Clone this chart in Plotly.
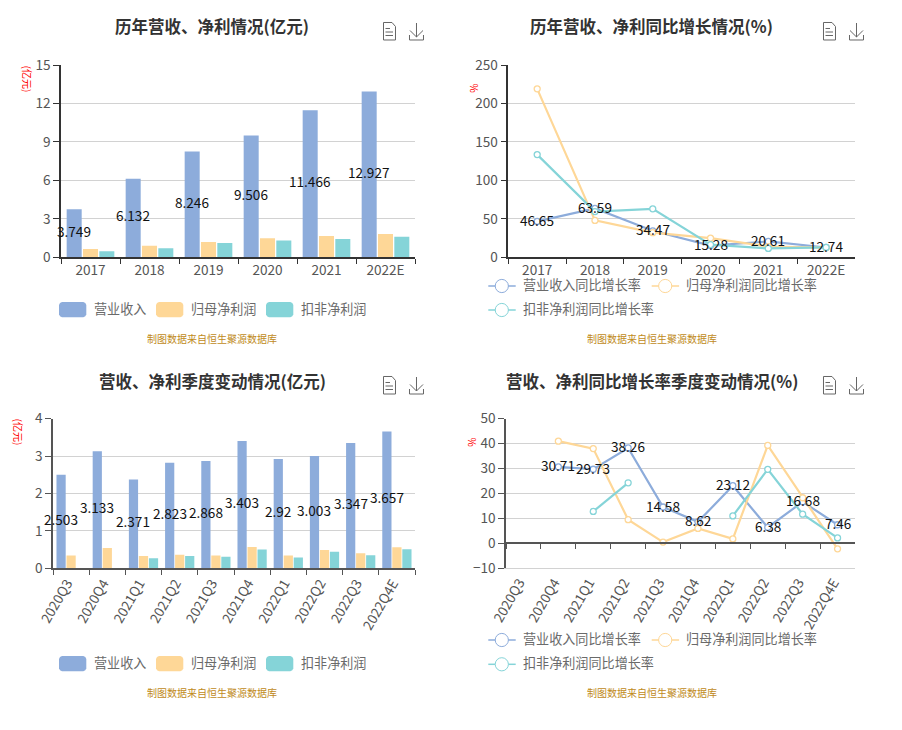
import plotly.graph_objects as go

years = ["2017", "2018", "2019", "2020", "2021", "2022E"]
quarters = ["2020Q3", "2020Q4", "2021Q1", "2021Q2", "2021Q3", "2021Q4", "2022Q1", "2022Q2", "2022Q3", "2022Q4E"]

annual_revenue = [3.749, 6.132, 8.246, 9.506, 11.466, 12.927]
annual_parent = [0.65, 0.91, 1.19, 1.48, 1.66, 1.82]
annual_deducted = [0.47, 0.70, 1.12, 1.32, 1.43, 1.61]

annual_revenue_yoy = [46.65, 63.59, 34.47, 15.28, 20.61, 12.74]
annual_parent_yoy = [219, 48, 32, 25, 14, 12.5]
annual_deducted_yoy = [133.5, 59.5, 63, 16.5, 11.5, 12.8]

quarter_revenue = [2.503, 3.133, 2.371, 2.823, 2.868, 3.403, 2.92, 3.003, 3.347, 3.657]
quarter_parent = [0.34, 0.54, 0.33, 0.36, 0.34, 0.57, 0.34, 0.49, 0.40, 0.56]
quarter_deducted = [None, None, 0.27, 0.33, 0.31, 0.50, 0.29, 0.44, 0.35, 0.51]

quarter_revenue_yoy = [None, 30.71, 29.73, 38.26, 14.58, 8.62, 23.12, 6.38, 16.68, 7.46]
quarter_parent_yoy = [None, 41, 38, 9.5, 0.5, 6, 1.8, 39.3, 18.3, -2.2]
quarter_deducted_yoy = [None, None, 12.8, 24.3, None, None, 11, 29.7, 11.7, 2.2]

bar_names = ["营业收入", "归母净利润", "扣非净利润"]
line_names = ["营业收入同比增长率", "归母净利润同比增长率", "扣非净利润同比增长率"]
titles = ["历年营收、净利情况(亿元)", "历年营收、净利同比增长情况(%)", "营收、净利季度变动情况(亿元)", "营收、净利同比增长率季度变动情况(%)"]
source_note = "制图数据来自恒生聚源数据库"

W, H = 902, 730
BLUE, ORANGE, TEAL = "#8dacdb", "#fed797", "#85d4d8"
COLORS = [BLUE, ORANGE, TEAL]
FONT = "Noto Sans CJK SC"
TICK = "#555555"
GRID = "#d2d2d2"
BAR_GAP, GROUP_GAP = 0.17, 0.08

fig = go.Figure()
shapes = []
annots = []

def px(x): return x / W
def py(y): return 1 - y / H

def text(x, y, s, size=13.1, color="#6a6a6a", anchor="center", angle=0, bold=False):
    annots.append(dict(text=f"<b>{s}</b>" if bold else s, x=px(x), y=py(y), xref="paper", yref="paper",
                       xanchor=anchor, yanchor="middle", showarrow=False, textangle=angle,
                       font=dict(family=FONT, size=size, color=color)))

def value_label(i, pos, val, y, xshift, yshift):
    annots.append(dict(text=str(val), x=pos, y=y, xref=f"x{i}", yref=f"y{i}", xanchor="center", yanchor="middle",
                       xshift=xshift, yshift=yshift, showarrow=False,
                       font=dict(family=FONT, size=13.6, color="#111111")))

def shape_path(d, color, width=1, fill=None):
    shapes.append(dict(type="path", path=d, xref="paper", yref="paper",
                       line=dict(color=color, width=width),
                       fillcolor=fill if fill else "rgba(0,0,0,0)"))

def P(*pts, close=False):
    d = "M " + " L ".join(f"{px(a):.5f},{py(b):.5f}" for a, b in pts)
    return d + (" Z" if close else "")

def rrect(x0, y0, x1, y1, color):
    r = 3
    pts = [(x0 + r, y0), (x1 - r, y0), (x1 - 1, y0 + 1), (x1, y0 + r), (x1, y1 - r), (x1 - 1, y1 - 1),
           (x1 - r, y1), (x0 + r, y1), (x0 + 1, y1 - 1), (x0, y1 - r), (x0, y0 + r), (x0 + 1, y0 + 1)]
    shape_path(P(*pts, close=True), color, 0, color)

def icons(dx, dy):
    c = "#666666"
    X = lambda a: a + dx
    Y = lambda b: b + dy
    shape_path(P((X(383.5), Y(22.5)), (X(392), Y(22.5)), (X(395.5), Y(26.5)), (X(395.5), Y(40)), (X(383.5), Y(40)), close=True), c)
    for yy, x1 in [(28.5, 390), (32, 393), (35.5, 393)]:
        shape_path(P((X(385.5), Y(yy)), (X(x1), Y(yy))), c)
    shape_path(P((X(416.5), Y(23)), (X(416.5), Y(37))), c)
    shape_path(P((X(410), Y(30.5)), (X(416.5), Y(37)), (X(423), Y(30.5))), c)
    shape_path(P((X(409.5), Y(35)), (X(409.5), Y(40)), (X(423.5), Y(40)), (X(423.5), Y(35))), c)

def axes(i, cats, box, yr, dtick, angle, xline, shift=0):
    x0, y0, x1, y1 = box
    fig.layout[f"xaxis{i}"] = dict(
        domain=[px(x0), px(x1)], anchor=f"y{i}", type="category", categoryorder="array", categoryarray=cats,
        range=[-0.5, len(cats) - 0.5], tickson="boundaries", ticks="outside", ticklen=5, tickwidth=1, tickcolor=xline,
        showline=True, linecolor=xline, linewidth=1.5, showgrid=False, zeroline=False, tickangle=angle,
        automargin=False, ticklabelshift=shift, tickfont=dict(family=FONT, size=13.6, color=TICK), fixedrange=True)
    fig.layout[f"yaxis{i}"] = dict(
        domain=[py(y1), py(y0)], anchor=f"x{i}", range=yr, dtick=dtick, tick0=0, ticks="outside", ticklen=6,
        tickwidth=1, tickcolor=xline, showline=True, linecolor=xline, linewidth=1.5, showgrid=True, automargin=False,
        gridcolor=GRID, gridwidth=1, zeroline=False, tickfont=dict(family=FONT, size=13.6, color=TICK), fixedrange=True)

def bars(i, cats, series, plot_width):
    for k, vals in enumerate(series):
        fig.add_trace(go.Bar(x=cats, y=vals, name=bar_names[k], marker=dict(color=COLORS[k], line=dict(width=0)),
                             xaxis=f"x{i}", yaxis=f"y{i}", showlegend=False, cliponaxis=False, hoverinfo="x+y"))
    slot = plot_width / len(cats) * (1 - BAR_GAP) / 3
    for pos, v in enumerate(series[0]):
        value_label(i, pos, v, v / 2, -slot, 2.5)

def lines(i, cats, series):
    for k, vals in enumerate(series):
        fig.add_trace(go.Scatter(x=cats, y=vals, name=line_names[k], mode="lines+markers",
                                 line=dict(color=COLORS[k], width=2.2),
                                 marker=dict(symbol="circle", size=6, color="white", line=dict(color=COLORS[k], width=1.3)),
                                 xaxis=f"x{i}", yaxis=f"y{i}", showlegend=False, connectgaps=False, cliponaxis=False))
    for pos, v in enumerate(series[0]):
        if v is not None:
            value_label(i, pos, v, v, 0, 1.5)

def bar_legend(y):
    for (a, tx), n, c in zip([(59, 92), (156, 189), (266, 299)], bar_names, COLORS):
        rrect(a, y, a + 27.3, y + 15.3, c)
        text(tx, y + 6, n, anchor="left")

def line_legend(y1, y2):
    for (a, yy), n, c in zip([(488.3, y1), (651.7, y1), (488.3, y2)], line_names, COLORS):
        shape_path(P((a, yy), (a + 27.4, yy)), c, 1.5)
        cx, r = a + 13.5, 6.6
        shapes.append(dict(type="circle", xref="paper", yref="paper", x0=px(cx - r), x1=px(cx + r),
                           y0=py(yy + r), y1=py(yy - r), fillcolor="white", line=dict(color=c, width=1)))
        text(a + 32.7, yy - 1.5, n, anchor="left")

# Panel 1
axes(1, years, (61, 65, 415, 257.3), [0, 15], 3, 0, "#333333")
bars(1, years, [annual_revenue, annual_parent, annual_deducted], 354)
# Panel 2
axes(2, years, (508.3, 65, 855, 257.3), [0, 250], 50, 0, "#333333")
lines(2, years, [annual_revenue_yoy, annual_parent_yoy, annual_deducted_yoy])
# Panel 3
axes(3, quarters, (53, 418.7, 415, 568.3), [0, 4], 1, -60, "#555555", shift=-4)
bars(3, quarters, [quarter_revenue, quarter_parent, quarter_deducted], 362)
# Panel 4: labels sit at the bottom, axis line and ticks run along zero
axes(4, quarters, (506, 418.7, 855, 568.3), [-10, 50], 10, -60, "#555555", shift=-4)
fig.layout.xaxis4.update(ticks="", showline=True, linecolor=GRID, linewidth=1)
lines(4, quarters, [quarter_revenue_yoy, quarter_parent_yoy, quarter_deducted_yoy])
fig.layout["xaxis5"] = dict(domain=[px(506), px(855)], anchor="free", position=py(543.3), overlaying="x4",
                            type="category", categoryorder="array", categoryarray=quarters, tickson="boundaries",
                            ticks="outside", ticklen=5, tickwidth=1, tickcolor="#555555", showline=True,
                            linecolor="#555555", linewidth=1.5, showticklabels=False, showgrid=False, zeroline=False,
                            range=[-0.5, 9.5], fixedrange=True, automargin=False)
fig.add_trace(go.Scatter(x=quarters, y=[None] * len(quarters), xaxis="x5", yaxis="y4", mode="lines",
                         showlegend=False, hoverinfo="skip"))

# Titles, notes, icons, unit labels, legends
for s, (x, y) in zip(titles, [(211.7, 26.5), (651.7, 26.5), (212, 381), (652, 381)]):
    text(x, y, s, size=16.5, color="#333333", bold=True)
for (x, y) in [(212, 338.5), (652, 338.5), (212, 692.5), (652, 692.5)]:
    text(x, y, source_note, size=10, color="#c08a1a")
for dx, dy in [(0, 0), (440, 0), (0, 354), (440, 354)]:
    icons(dx, dy)
text(27, 78.5, "(亿元)", size=10, color="#ff0000", angle=90)
text(474, 87.5, "%", size=10, color="#ff0000", angle=90)
text(18.5, 432, "(亿元)", size=10, color="#ff0000", angle=90)
text(472, 441.5, "%", size=10, color="#ff0000", angle=90)
bar_legend(302)
bar_legend(656)
line_legend(286, 310)
line_legend(640, 664.3)

fig.update_layout(width=W, height=H, margin=dict(l=0, r=0, t=0, b=0, pad=0, autoexpand=False), paper_bgcolor="white",
                  plot_bgcolor="white", barmode="group", bargap=BAR_GAP, bargroupgap=GROUP_GAP,
                  showlegend=False, shapes=shapes, annotations=annots, font=dict(family=FONT))

fig.write_html("out.html", config=dict(displayModeBar=False),
               post_script="document.body.style.margin='0';")
